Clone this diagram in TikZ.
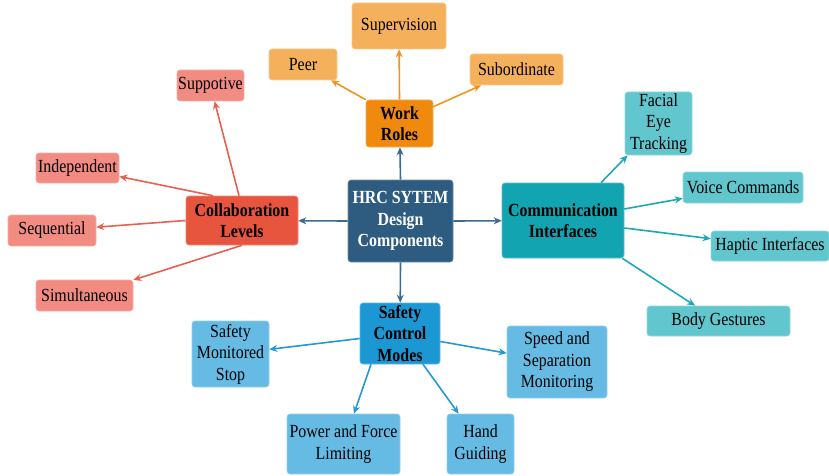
\documentclass[tikz,border=0pt]{standalone}
\usepackage{fontspec}
\setmainfont{Liberation Serif}[FakeStretch=0.86]
\usetikzlibrary{arrows.meta}
\definecolor{cdark}{HTML}{2E5B80}
\definecolor{carrdark}{HTML}{3D6A90}
\definecolor{corange}{HTML}{F08A0E}
\definecolor{clorange}{HTML}{F5B05B}
\definecolor{carrorange}{HTML}{F0931E}
\definecolor{cred}{HTML}{E8553F}
\definecolor{clred}{HTML}{F28B82}
\definecolor{carrred}{HTML}{E8604F}
\definecolor{cteal}{HTML}{13A4B1}
\definecolor{clteal}{HTML}{62C6CE}
\definecolor{carrteal}{HTML}{1DA8B5}
\definecolor{cblue}{HTML}{1B98D4}
\definecolor{clblue}{HTML}{66BBE4}
\definecolor{carrblue}{HTML}{2299D4}
\tikzset{
  box/.style={rounded corners=3pt, align=center, inner sep=0pt,
    font=\fontsize{18.5}{21.5}\selectfont, text=black, line width=0.6pt},
  mainbox/.style={box, font=\fontsize{18.5}{21.5}\selectfont\bfseries},
  arr/.style={line width=1.6pt, -{Stealth[length=8pt,width=7pt]}},
}
\begin{document}
\begin{tikzpicture}[x=1pt,y=-1pt]
\useasboundingbox (0,0) rectangle (829,476);
% center
\node[mainbox, fill=cdark, draw=cdark!70!white, text=white, minimum width=105pt, minimum height=82pt] (c) at (400.5,221) {HRC SYTEM\\Design\\Components};
% work roles
\node[mainbox, fill=corange, draw=corange!70!white, minimum width=67pt, minimum height=47pt] (wr) at (399.5,123.5) {Work\\Roles};
\node[box, fill=clorange, draw=clorange!70!white, minimum width=94pt, minimum height=46pt] (sup) at (399,26) {Supervision};
\node[box, fill=clorange, draw=clorange!70!white, minimum width=68pt, minimum height=31pt] (peer) at (303,64.5) {Peer};
\node[box, fill=clorange, draw=clorange!70!white, minimum width=93pt, minimum height=31pt] (subo) at (516.5,69.5) {Subordinate};
% collaboration
\node[mainbox, fill=cred, draw=cred!70!white, minimum width=112pt, minimum height=49pt] (cl) at (242,220.5) {Collaboration\\Levels};
\node[box, fill=clred, draw=clred!70!white, minimum width=67pt, minimum height=31pt] (supp) at (210.5,85.5) {Suppotive};
\node[box, fill=clred, draw=clred!70!white, minimum width=83pt, minimum height=30pt] (ind) at (77.5,168) {Independent};
\node[box, fill=clred, draw=clred!70!white, minimum width=88pt, minimum height=31pt] (seq) at (52,230.5) {Sequential};
\node[box, fill=clred, draw=clred!70!white, minimum width=97pt, minimum height=31pt] (sim) at (84.5,295.5) {Simultaneous};
% communication
\node[mainbox, fill=cteal, draw=cteal!70!white, minimum width=122pt, minimum height=75pt] (ci) at (563,220.5) {Communication\\Interfaces};
\node[box, fill=clteal, draw=clteal!70!white, minimum width=67pt, minimum height=63pt] (fet) at (658.5,123.5) {Facial\\Eye\\Tracking};
\node[box, fill=clteal, draw=clteal!70!white, minimum width=120pt, minimum height=31pt] (vc) at (743,187.5) {Voice Commands};
\node[box, fill=clteal, draw=clteal!70!white, minimum width=118pt, minimum height=30pt] (hi) at (770,246) {Haptic Interfaces};
\node[box, fill=clteal, draw=clteal!70!white, minimum width=143pt, minimum height=30pt] (bg) at (718.5,321) {Body Gestures};
% safety
\node[mainbox, fill=cblue, draw=cblue!70!white, minimum width=80pt, minimum height=61pt] (scm) at (400,333.5) {Safety\\Control\\Modes};
\node[box, fill=clblue, draw=clblue!70!white, minimum width=77pt, minimum height=66pt] (sms) at (230.5,354) {Safety\\Monitored\\Stop};
\node[box, fill=clblue, draw=clblue!70!white, minimum width=100pt, minimum height=72pt] (ssm) at (557,362) {Speed and\\Separation\\Monitoring};
\node[box, fill=clblue, draw=clblue!70!white, minimum width=113pt, minimum height=60pt] (pfl) at (343.5,444) {Power and Force\\Limiting};
\node[box, fill=clblue, draw=clblue!70!white, minimum width=67pt, minimum height=60pt] (hg) at (480.5,444) {Hand\\Guiding};
% center connectors
\draw[arr, carrdark] (c.north) -- (wr);
\draw[arr, carrdark] (c.west) -- (cl);
\draw[arr, carrdark] (c.east) -- (ci);
\draw[arr, carrdark] (c.south) -- (scm);
% work roles
\draw[arr, carrorange] (wr.north west) -- (peer);
\draw[arr, carrorange] (wr.north) -- (sup);
\draw[arr, carrorange] ([yshift=-7pt]wr.north east) -- (subo);
% collaboration
\draw[arr, carrred] ([xshift=-3pt]cl.north) -- (supp);
\draw[arr, carrred] ([xshift=-29pt]cl.north) -- (ind);
\draw[arr, carrred] (cl.west) -- (seq);
\draw[arr, carrred] (cl.south) -- (sim);
% communication
\draw[arr, carrteal] ([xshift=38pt]ci.north) -- (fet);
\draw[arr, carrteal] ([yshift=11.5pt]ci.east) -- (vc);
\draw[arr, carrteal] ([yshift=-7.5pt]ci.east) -- (hi);
\draw[arr, carrteal] ([xshift=-2pt]ci.south east) -- (bg);
% safety
\draw[arr, carrblue] ([yshift=-5pt]scm.west) -- (sms);
\draw[arr, carrblue] ([yshift=-8pt]scm.east) -- (ssm);
\draw[arr, carrblue] ([xshift=-29pt]scm.south) -- (pfl);
\draw[arr, carrblue] ([xshift=23pt]scm.south) -- (hg);
\end{tikzpicture}
\end{document}
